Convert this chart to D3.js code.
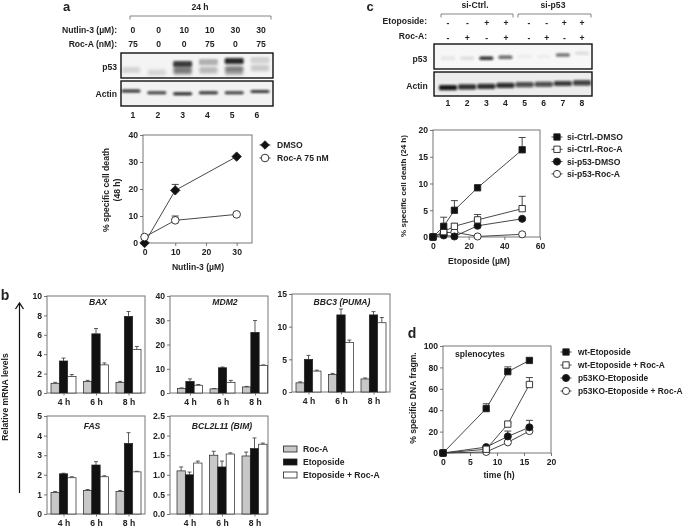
<!DOCTYPE html>
<html><head><meta charset="utf-8">
<script src="https://cdnjs.cloudflare.com/ajax/libs/d3/7.8.5/d3.min.js"></script>
<style>
html,body{margin:0;padding:0;background:#fff}
svg{display:block;filter:blur(0.4px)}
text{font-family:"Liberation Sans",Arial,sans-serif;font-weight:bold;fill:#222}
</style></head><body>
<svg id="c" width="685" height="528"></svg>
<script>
// ---------- panel a ----------
const aX = [0, 10, 30];
const aDmso = [0, 19.5, 32], aDmsoErr = [0, 2.2, 0];
const aRoc = [2.2, 8.4, 10.6], aRocErr = [0, 1.6, 0];
const aNutlin = ["0","0","10","10","30","30"];
const aRocDose = ["75","0","0","75","0","75"];
const aP53Upper = [0, 0, 0.8, 0.28, 0.88, 0.14];
const aP53Lower = [0.13, 0.12, 0.32, 0.16, 0.28, 0.13];
const aActin = [0.85, 0.8, 0.9, 0.85, 0.8, 0.82];
// ---------- panel c ----------
const cX = [0, 6, 12, 25, 50];
const cCtrlDmso = [0, 2, 5, 9.2, 16.3], cCtrlDmsoErr = [0, 1.7, 1.8, 0, 2.3];
const cCtrlRoc = [0, 1, 2, 3.2, 5.3], cCtrlRocErr = [0, 0.5, 0.5, 1, 2.3];
const cP53Dmso = [0, 0.3, 0.1, 2.1, 3.4], cP53DmsoErr = [0, 0, 0, 1.2, 0];
const cP53Roc = [0, 0.8, 0.9, 0.1, 0.5], cP53RocErr = [0, 0, 0, 0, 0];
const cEtop = ["-","-","+","+","-","-","+","+"];
const cRocA = ["-","+","-","+","-","+","-","+"];
const cP53 = [0.07, 0.1, 0.85, 0.62, 0.04, 0.04, 0.52, 0.1];
const cP53Pos = [0.57, 0.57, 0.57, 0.53, 0.5, 0.5, 0.44, 0.37];
const cActin = [0.95, 0.85, 0.85, 0.85, 0.72, 0.72, 0.8, 0.78];
const cActinPos = [0.65, 0.62, 0.6, 0.56, 0.53, 0.51, 0.48, 0.45];
// ---------- panel b ----------
const hours = ["4 h", "6 h", "8 h"];
const bRocName = "Roc-A", bEtoName = "Etoposide", bBothName = "Etoposide + Roc-A";
const baxRoc=[1.0,1.2,1.1], baxRocErr=[.1,.1,.1], baxEto=[3.3,6.1,7.9], baxEtoErr=[.3,.55,.5], baxBoth=[1.7,2.9,4.5], baxBothErr=[.2,.2,.3];
const mdmRoc=[1.9,1.7,2.5], mdmRocErr=[.2,.1,.2], mdmEto=[4.8,10.4,25], mdmEtoErr=[1,.3,4.9], mdmBoth=[3.2,4.4,11.4], mdmBothErr=[.3,.8,.2];
const bbcRoc=[1.4,2.7,2.0], bbcRocErr=[.15,.15,.15], bbcEto=[5.0,11.8,11.8], bbcEtoErr=[.6,.9,.5], bbcBoth=[3.2,7.6,10.6], bbcBothErr=[.15,.35,.8];
const fasRoc=[1.1,1.2,1.15], fasRocErr=[.05,.05,.05], fasEto=[2.05,2.5,3.6], fasEtoErr=[.03,.17,.55], fasBoth=[1.85,1.9,2.15], fasBothErr=[.05,.05,.03];
const bimRoc=[1.1,1.5,1.48], bimRocErr=[.1,.1,.1], bimEto=[1.0,1.2,1.67], bimEtoErr=[.07,.15,.27], bimBoth=[1.3,1.53,1.78], bimBothErr=[.05,.03,.03];
// ---------- panel d ----------
const dX = [0, 8, 12, 16];
const dWt = [0, 41.5, 76, 86.5], dWtErr = [0, 4.5, 4.5, 2];
const dWtRoc = [0, 3.5, 27, 64], dWtRocErr = [0, 1, 1, 6.5];
const dKo = [0, 5.5, 15.5, 24], dKoErr = [0, 1, 5, 6.5];
const dKoRoc = [0, 1, 10, 20.5], dKoRocErr = [0, 0.5, 1, 2];

const FS = 8.6;
const svg = d3.select("#c");
const defs = svg.append("defs");
[[1.5,"b1"],[1.0,"b2"],[0.8,"b3"]].forEach(([s,id]) => defs.append("filter").attr("id",id)
  .attr("x","-30%").attr("y","-100%").attr("width","160%").attr("height","300%")
  .append("feGaussianBlur").attr("stdDeviation",s));

function label(x, y, str, opt={}) {
  const t = svg.append("text").attr("x",x).attr("y",y).attr("dy","0.35em")
    .attr("text-anchor",opt.anchor||"middle").attr("font-size",opt.size||FS).text(str);
  if (opt.rotate) t.attr("transform",`rotate(-90 ${x} ${y})`);
  if (opt.italic) t.attr("font-style","italic");
  return t;
}
function bracket(x0, x1, y) {
  svg.append("path").attr("d",`M${x0},${y+3.5}V${y}H${x1}V${y+3.5}`)
    .attr("fill","none").attr("stroke","#666").attr("stroke-width",0.8);
}
function frame(x, y, box) {
  const g = svg.append("g");
  g.append("rect").attr("x",box[0]).attr("y",box[2]).attr("width",box[1]-box[0]).attr("height",box[3]-box[2])
    .attr("fill","none").attr("stroke","#777").attr("stroke-width",1);
  return g;
}
function axes(g, x, y, box, xTicks, yTicks, yFmt) {
  const gx = g.append("g").attr("transform",`translate(0,${box[3]})`);
  if (x) gx.call(d3.axisBottom(x).tickValues(xTicks).tickSize(3).tickPadding(3));
  const gy = g.append("g").attr("transform",`translate(${box[0]},0)`)
    .call(d3.axisLeft(y).tickValues(yTicks).tickSize(3).tickPadding(2).tickFormat(yFmt||d3.format("d")));
  [gx,gy].forEach(a=>{
    a.select(".domain").remove();
    a.selectAll("line").attr("stroke","#555").attr("stroke-width",0.8);
    a.selectAll("text").attr("font-size",FS).attr("font-family",null);
  });
}
function marker(sel, kind, s) {
  const sym = {square:d3.symbolSquare, circle:d3.symbolCircle, diamond:d3.symbolDiamond2}[kind[0]];
  return sel.attr("d", d3.symbol().type(sym).size(s))
    .attr("fill", kind[1]).attr("stroke","#222").attr("stroke-width",0.9);
}
function series(g, x, y, xs, ys, errs, kind, s, cap) {
  const pts = xs.map((v,i)=>({x:v,y:ys[i],e:errs[i]}));
  g.append("path").datum(pts).attr("fill","none").attr("stroke","#333").attr("stroke-width",0.9)
    .attr("d", d3.line().x(d=>x(d.x)).y(d=>y(d.y)));
  g.append("g").selectAll("path").data(pts.filter(d=>d.e>0)).join("path")
    .attr("fill","none").attr("stroke","#333").attr("stroke-width",0.9)
    .attr("d", d=>`M${x(d.x)},${y(d.y)}V${y(d.y+d.e)}M${x(d.x)-cap},${y(d.y+d.e)}H${x(d.x)+cap}`);
  g.append("g").selectAll("path").data(pts).join("path")
    .attr("transform", d=>`translate(${x(d.x)},${y(d.y)})`)
    .call(marker, kind, s);
}
function legendLines(names, kinds, ys, mx, tx, s, fs) {
  names.forEach((n,i)=>{
    svg.append("line").attr("x1",mx-5.5).attr("x2",mx+5.5).attr("y1",ys(i)).attr("y2",ys(i)).attr("stroke","#333").attr("stroke-width",0.9);
    svg.append("path").attr("transform",`translate(${mx},${ys(i)})`).call(marker,kinds[i],s);
    label(tx,ys(i),n,{anchor:"start",size:fs});
  });
}
const SQF=["square","#111"], SQO=["square","#fff"], CIF=["circle","#111"], CIO=["circle","#fff"], DIA=["diamond","#111"];

// blot helper
function blot(box, bg) {
  const g = svg.append("g");
  g.append("rect").attr("x",box[0]).attr("y",box[2]).attr("width",box[1]-box[0]).attr("height",box[3]-box[2])
    .attr("fill",bg);
  g.frame = () => g.append("rect").attr("x",box[0]).attr("y",box[2]).attr("width",box[1]-box[0]).attr("height",box[3]-box[2])
    .attr("fill","none").attr("stroke","#111").attr("stroke-width",1.4);
  return g;
}
function bands(g, lane, vals, posY, h, w, filt) {
  g.append("g").attr("filter",`url(#${filt})`).selectAll("rect").data(vals).join("rect")
    .attr("x",(d,i)=>lane(i)-w/2).attr("width",w)
    .attr("y",(d,i)=>posY(i)-h/2).attr("height",h).attr("rx",1.5)
    .attr("fill","#0c0c0c").attr("fill-opacity",d=>d);
}

// ========= a =========
label(66.5,6.5,"a",{size:13});
label(200,6.5,"24 h");
bracket(130,271,16);
const aLabelX = d3.scalePoint().domain(d3.range(6)).range([133,261]);
const aLaneX = d3.scalePoint().domain(d3.range(6)).range([131,260]);
const aNumX = d3.scalePoint().domain(d3.range(6)).range([133,257]);
label(117,30,"Nutlin-3 (µM):",{anchor:"end"});
label(117,43.5,"Roc-A (nM):",{anchor:"end"});
aNutlin.forEach((d,i)=>label(aLabelX(i),30,d));
aRocDose.forEach((d,i)=>label(aLabelX(i),43.5,d));
const aP = blot([121,273,53,78],"#f4f4f4");
const aPy = d3.scaleLinear().domain([0,1]).range([53,78]);
bands(aP,aLaneX,aP53Upper,i=>aPy([0,0,.44,.36,.32,.28][i]),6,19,"b2");
bands(aP,aLaneX,aP53Lower,i=>aPy([.68,.78,.68,.68,.62,.6][i]),6,18,"b1");
bands(aP,aLaneX,aP53Upper.map(d=>d*.35),i=>aPy([0,0,.72,.7,.72,.6][i]),8,18,"b1");
aP.frame();
const aA = blot([121,273,81,106],"#f2f2f2");
const aAy = d3.scaleLinear().domain([0,1]).range([81,106]);
bands(aA,aLaneX,aActin,i=>aAy([.4,.47,.51,.47,.47,.42][i]),3.2,19,"b3");
aA.frame();
label(117,66.5,"p53",{anchor:"end"});
label(117,94,"Actin",{anchor:"end"});
d3.range(6).forEach(i=>label(aNumX(i),115,String(i+1)));
const aBox=[143,252,135,243];
const ax = d3.scaleLinear().domain([-0.5,35]).range([aBox[0],aBox[1]]);
const ay = d3.scaleLinear().domain([0,40]).range([aBox[3],aBox[2]]);
const aG = frame(ax,ay,aBox);
axes(aG,ax,ay,aBox,[0,10,20,30],[0,10,20,30,40]);
series(aG,ax,ay,aX,aDmso,aDmsoErr,DIA,56,3.5);
series(aG,ax,ay,aX,aRoc,aRocErr,CIO,46,3.5);
label(198,267,"Nutlin-3 (µM)");
label(106,190,"% specific cell death",{rotate:true});
label(117,190,"(48 h)",{rotate:true});
legendLines(["DMSO","Roc-A 75 nM"],[DIA,CIO],i=>145+13*i,265,277,46);

// ========= c =========
label(370,6.5,"c",{size:13});
label(475,5,"si-Ctrl.");
label(553,5,"si-p53");
bracket(441,513,14);
bracket(518,591,14);
const cCtrlX = d3.scaleLinear().domain([0,3]).range([448,506]);
const cKoX = d3.scaleLinear().domain([4,7]).range([529,582]);
const cSignX = i => i<4 ? cCtrlX(i) : cKoX(i);
label(427,21,"Etoposide:",{anchor:"end"});
label(427,36,"Roc-A:",{anchor:"end"});
cEtop.forEach((d,i)=>label(cSignX(i),22.5,d));
cRocA.forEach((d,i)=>label(cSignX(i),37.5,d));
const cLane = d3.scalePoint().domain(d3.range(8)).range([448,582]);
const cP = blot([434,592,44,69],"#f7f7f7");
const cPy = d3.scaleLinear().domain([0,1]).range([44,69]);
bands(cP,cLane,cP53,i=>cPy(cP53Pos[i]),3.6,14,"b3");
cP.frame();
const cA = blot([434,592,72,96],"#ececec");
const cAy = d3.scaleLinear().domain([0,1]).range([72,96]);
bands(cA,cLane,cActin,i=>cAy(cActinPos[i]),5.2,18,"b3");
cA.frame();
label(420,59,"p53");
label(417,86,"Actin");
d3.range(8).forEach(i=>label(cLane(i),103,String(i+1)));
const cBox=[433,540,130,237];
const cx = d3.scaleLinear().domain([0,60]).range([cBox[0],cBox[1]]);
const cy = d3.scaleLinear().domain([0,20]).range([cBox[3],cBox[2]]);
const cG = frame(cx,cy,cBox);
axes(cG,cx,cy,cBox,[0,20,40,60],[0,5,10,15,20]);
series(cG,cx,cy,cX,cP53Roc,cP53RocErr,CIO,40,3.5);
series(cG,cx,cy,cX,cP53Dmso,cP53DmsoErr,CIF,40,3.5);
series(cG,cx,cy,cX,cCtrlRoc,cCtrlRocErr,SQO,40,3.5);
series(cG,cx,cy,cX,cCtrlDmso,cCtrlDmsoErr,SQF,40,3.5);
label(479,261,"Etoposide (µM)");
label(403,186,"% specific cell death (24 h)",{rotate:true,size:8});
legendLines(["si-Ctrl.-DMSO","si-Ctrl.-Roc-A","si-p53-DMSO","si-p53-Roc-A"],[SQF,SQO,CIF,CIO],i=>137+12.3*i,557,567,40);

// ========= b =========
label(5,295,"b",{size:14});
function barPanel(box, yMax, yTicks, yFmt, title, titleX, titleY, labY, vals, errs, off) {
  const y = d3.scaleLinear().domain([0,yMax]).range([box[3],box[2]]);
  const x0 = d3.scaleBand().domain(hours).range([box[0]+off,box[0]+off+97.5]);
  const x1 = d3.scaleBand().domain([0,1,2]).range([0,25]);
  const g = svg.append("g");
  g.append("rect").attr("x",box[0]).attr("y",box[2]).attr("width",box[1]-box[0]).attr("height",box[3]-box[2])
    .attr("fill","none").attr("stroke","#777");
  axes(g,null,y,box,[],yTicks,yFmt);
  const fills=["#c8c8c8","#111","#fff"];
  hours.forEach((h,hi)=>{
    const gx = g.append("g").attr("transform",`translate(${x0(h)},0)`);
    vals.forEach((s,si)=>{
      const bx=x1(si), bw=x1.bandwidth(), v=s[hi], e=errs[si][hi], c=bx+bw/2;
      gx.append("path").attr("fill","none").attr("stroke","#333").attr("stroke-width",0.8)
        .attr("d",`M${c},${y(v)}V${y(v+e)}M${c-2},${y(v+e)}H${c+2}`);
      gx.append("rect").attr("x",bx).attr("width",bw).attr("y",y(v)).attr("height",box[3]-y(v))
        .attr("fill",fills[si]).attr("stroke","#222").attr("stroke-width",0.7);
    });
    label(x0(h)+13,labY,h);
    g.append("line").attr("x1",x0(h)+13).attr("x2",x0(h)+13).attr("y1",box[3]).attr("y2",box[3]+2.5).attr("stroke","#555").attr("stroke-width",.8);
  });
  label(titleX,titleY,title,{italic:true});
}
const f1 = d3.format(".1f");
barPanel([47,145,296,393],10,[0,2,4,6,8,10],null,"BAX",98,302,402,[baxRoc,baxEto,baxBoth],[baxRocErr,baxEtoErr,baxBothErr],4);
barPanel([170,268,296,393],40,[0,10,20,30,40],null,"MDM2",225,302,402,[mdmRoc,mdmEto,mdmBoth],[mdmRocErr,mdmEtoErr,mdmBothErr],7.5);
barPanel([292,390,294,392],15,[0,5,10,15],null,"BBC3 (PUMA)",342,302,401,[bbcRoc,bbcEto,bbcBoth],[bbcRocErr,bbcEtoErr,bbcBothErr],4);
barPanel([47,145,416,514],5,[0,1,2,3,4,5],null,"FAS",92,426,523,[fasRoc,fasEto,fasBoth],[fasRocErr,fasEtoErr,fasBothErr],4);
barPanel([170,268,416,514],2.5,[0,.5,1,1.5,2,2.5],f1,"BCL2L11 (BIM)",222,426,523,[bimRoc,bimEto,bimBoth],[bimRocErr,bimEtoErr,bimBothErr],7);
svg.append("line").attr("x1",19.5).attr("x2",19.5).attr("y1",493).attr("y2",304).attr("stroke","#111").attr("stroke-width",1.2);
svg.append("path").attr("d","M15.5,309L19.5,303L23.5,309").attr("fill","none").attr("stroke","#111").attr("stroke-width",1.3);
label(5,397,"Relative mRNA levels",{rotate:true});
[bRocName,bEtoName,bBothName].forEach((n,i)=>{
  const yy=449+13*i;
  svg.append("rect").attr("x",283.5).attr("y",yy-3).attr("width",13.5).attr("height",6)
    .attr("fill",["#c8c8c8","#111","#fff"][i]).attr("stroke","#222").attr("stroke-width",.8);
  label(303,yy,n,{anchor:"start"});
});

// ========= d =========
label(412,333,"d",{size:14});
const dBox=[443,551,346,453];
const dx = d3.scaleLinear().domain([0,20]).range([dBox[0],dBox[1]]);
const dy = d3.scaleLinear().domain([0,100]).range([dBox[3],dBox[2]]);
const dG = frame(dx,dy,dBox);
axes(dG,dx,dy,dBox,[0,5,10,15,20],[0,20,40,60,80,100]);
series(dG,dx,dy,dX,dKoRoc,dKoRocErr,CIO,40,3.5);
series(dG,dx,dy,dX,dKo,dKoErr,CIF,40,3.5);
series(dG,dx,dy,dX,dWtRoc,dWtRocErr,SQO,40,3.5);
series(dG,dx,dy,dX,dWt,dWtErr,SQF,40,3.5);
label(455,354,"splenocytes",{anchor:"start"});
label(499,475,"time (h)");
label(413,398,"% specific DNA fragm.",{rotate:true});
legendLines(["wt-Etoposide","wt-Etoposide + Roc-A","p53KO-Etoposide","p53KO-Etoposide + Roc-A"],[SQF,SQO,CIF,CIO],i=>352+13*i,566,578,40,8.4);
</script>
</body></html>
